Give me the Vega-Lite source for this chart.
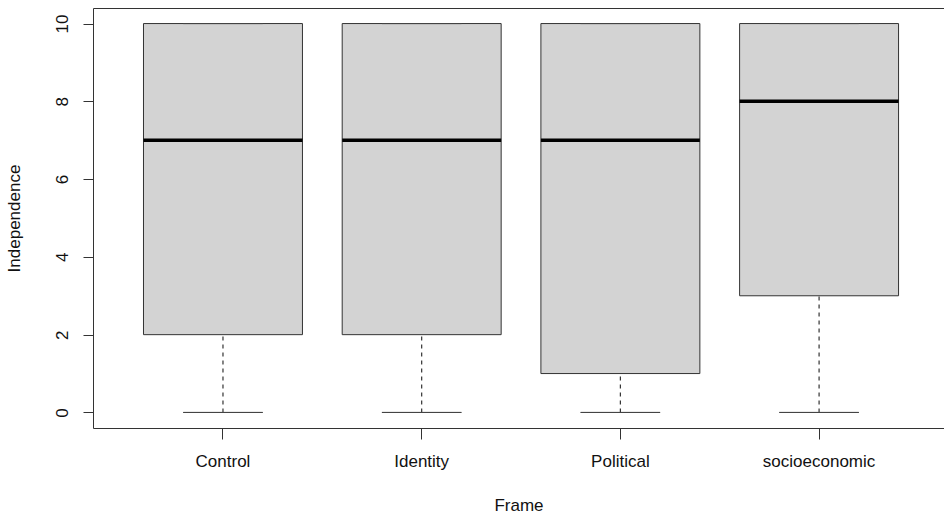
{
  "$schema": "https://vega.github.io/schema/vega-lite/v6.json",
  "width": 851,
  "height": 420,
  "autosize": {"type": "none"},
  "padding": {"left": 93, "top": 8, "right": 0, "bottom": 90},
  "background": "white",
  "config": {
    "view": {"stroke": null},
    "font": "Liberation Sans",
    "axis": {"grid": false, "domainColor": "#333", "tickColor": "#333", "labelColor": "#111", "titleColor": "#111", "labelFont": "Liberation Sans", "titleFont": "Liberation Sans", "labelFontSize": 17, "titleFontSize": 17, "titleFontWeight": "normal", "domainWidth": 1, "tickWidth": 1}
  },
  "data": {
    "values": [
      {"Frame": "Control", "min": 0, "q1": 2, "median": 7, "q3": 10, "max": 10},
      {"Frame": "Identity", "min": 0, "q1": 2, "median": 7, "q3": 10, "max": 10},
      {"Frame": "Political", "min": 0, "q1": 1, "median": 7, "q3": 10, "max": 10},
      {"Frame": "socioeconomic", "min": 0, "q1": 3, "median": 8, "q3": 10, "max": 10}
    ]
  },
  "resolve": {"axis": {"x": "independent"}},
  "layer": [
    {
      "mark": {"type": "bar", "fill": "#d3d3d3", "stroke": "#333", "strokeWidth": 1, "width": {"band": 0.8}},
      "encoding": {
        "x": {"field": "Frame", "type": "nominal", "sort": null,
          "scale": {"type": "band", "paddingInner": 0, "paddingOuter": 0.1414, "align": 0.545},
          "axis": {"orient": "bottom", "title": "Frame", "labelAngle": 0, "tickSize": 11, "labelPadding": 14, "titlePadding": 28}},
        "y": {"field": "q1", "type": "quantitative",
          "scale": {"domain": [-0.4, 10.4], "nice": false, "zero": false},
          "axis": {"title": "Independence", "values": [0, 2, 4, 6, 8, 10], "labelAngle": -90, "labelAlign": "center", "labelBaseline": "alphabetic", "tickSize": 10, "labelPadding": 16, "titlePadding": 30}},
        "y2": {"field": "q3"}
      }
    },
    {
      "mark": {"type": "rule", "stroke": "#333", "strokeWidth": 1.2, "strokeDash": [4, 4]},
      "encoding": {
        "x": {"field": "Frame", "type": "nominal", "sort": null, "axis": null},
        "y": {"field": "min", "type": "quantitative"},
        "y2": {"field": "q1"}
      }
    },
    {
      "mark": {"type": "rule", "stroke": "#333", "strokeWidth": 1.2, "strokeDash": [4, 4]},
      "encoding": {
        "x": {"field": "Frame", "type": "nominal", "sort": null, "axis": null},
        "y": {"field": "q3", "type": "quantitative"},
        "y2": {"field": "max"}
      }
    },
    {
      "mark": {"type": "bar", "fill": null, "fillOpacity": 0, "stroke": "#444", "strokeWidth": 1, "width": {"band": 0.4}},
      "encoding": {
        "x": {"field": "Frame", "type": "nominal", "sort": null, "axis": null},
        "y": {"field": "min", "type": "quantitative"},
        "y2": {"field": "min"}
      }
    },
    {
      "mark": {"type": "bar", "fill": null, "fillOpacity": 0, "stroke": "#444", "strokeWidth": 1, "width": {"band": 0.4}},
      "encoding": {
        "x": {"field": "Frame", "type": "nominal", "sort": null, "axis": null},
        "y": {"field": "max", "type": "quantitative"},
        "y2": {"field": "max"}
      }
    },
    {
      "mark": {"type": "bar", "fill": null, "fillOpacity": 0, "stroke": "#000", "strokeWidth": 3.5, "strokeJoin": "bevel", "width": {"band": 0.8}},
      "encoding": {
        "x": {"field": "Frame", "type": "nominal", "sort": null,
          "axis": {"orient": "top", "title": null, "labels": false, "ticks": false, "domain": true}},
        "y": {"field": "median", "type": "quantitative"},
        "y2": {"field": "median"}
      }
    }
  ]
}
